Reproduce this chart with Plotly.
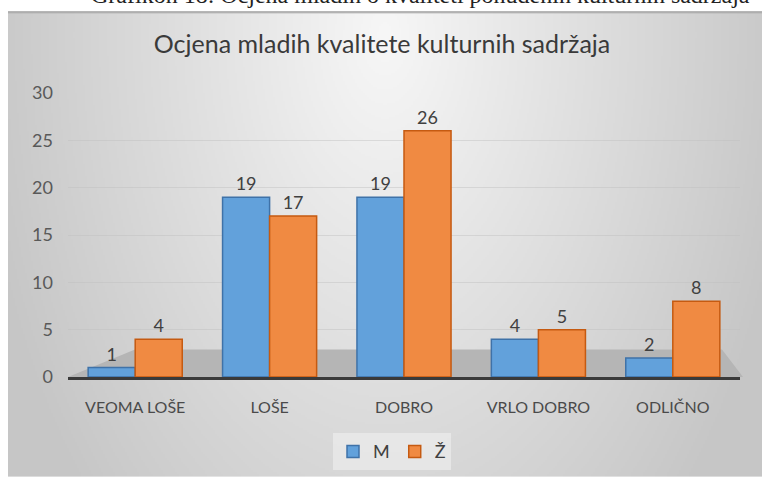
import base64, struct, zlib, math
import plotly.graph_objects as go

categories = ["VEOMA LOŠE", "LOŠE", "DOBRO", "VRLO DOBRO", "ODLIČNO"]
values_m = [1, 19, 19, 4, 2]
values_z = [4, 17, 26, 5, 8]
series_names = ["M", "Ž"]
y_ticks = [0, 5, 10, 15, 20, 25, 30]

W, H = 762, 482
L, R, T, B = 68, 22, 93, 101
PW, PH = W - L - R, H - T - B


def px_x(p):
    return (p - L) / PW


def px_y(p):
    return (H - B - p) / PH


# background gradient as a small grayscale PNG
def make_png(w, h):
    rows = b""
    for j in range(h):
        row = bytearray([0])
        fy = j / (h - 1)
        for i in range(w):
            fx = i / (w - 1)
            r = math.sqrt(((fx - 0.5) / 0.5) ** 2 * 0.9 + (fy - 0.05) ** 2 * 0.5)
            v = 247 - 47 * r
            v = max(198, min(247, v))
            if j == 0:
                v = 170
            row.append(int(v))
        rows += bytes(row)

    def chunk(t, d):
        c = struct.pack(">I", len(d)) + t + d
        return c + struct.pack(">I", zlib.crc32(t + d) & 0xffffffff)

    png = b"\x89PNG\r\n\x1a\n"
    png += chunk(b"IHDR", struct.pack(">IIBBBBB", w, h, 8, 0, 0, 0, 0))
    png += chunk(b"IDAT", zlib.compress(rows, 9))
    png += chunk(b"IEND", b"")
    return "data:image/png;base64," + base64.b64encode(png).decode()


bg = make_png(377, 236)

font = "Lato, 'Open Sans', sans-serif"

fig = go.Figure()
fig.add_trace(go.Bar(
    x=categories, y=values_m, name=series_names[0],
    marker=dict(color="#62A1DB", line=dict(color="#3F72A8", width=1.5)),
    text=values_m, textposition="outside", cliponaxis=False,
    textfont=dict(family=font, size=18, color="#404040"),
))
fig.add_trace(go.Bar(
    x=categories, y=values_z, name=series_names[1],
    marker=dict(color="#F08A42", line=dict(color="#C55A11", width=1.5)),
    text=values_z, textposition="outside", cliponaxis=False,
    textfont=dict(family=font, size=18, color="#404040"),
))

fig.update_layout(
    width=W, height=H,
    margin=dict(l=L, r=R, t=T, b=B),
    paper_bgcolor="white",
    plot_bgcolor="rgba(0,0,0,0)",
    barmode="group", bargap=0.3, bargroupgap=0,
    title=dict(text="Ocjena mladih kvalitete kulturnih sadržaja",
               x=382 / W, xanchor="center", xref="container",
               y=1 - 44 / H, yanchor="middle", yref="container",
               font=dict(family=font, size=25, color="#3a3a3a")),
    font=dict(family=font, color="#595959"),
    xaxis=dict(showline=True, linecolor="#3a3a3a", linewidth=3,
               showgrid=False, ticks="", ticklabelstandoff=14,
               tickfont=dict(family=font, size=16, color="#4a4a4a")),
    yaxis=dict(range=[0, 30], tickvals=y_ticks, showgrid=True,
               gridcolor="rgba(190,190,190,0.45)", gridwidth=1,
               zeroline=False, showline=False, ticks="",
               ticklabelstandoff=14,
               tickfont=dict(family=font, size=18, color="#595959")),
    legend=dict(orientation="h", x=px_x(392), xanchor="center",
                y=px_y(438), yanchor="top",
                bgcolor="rgba(240,240,240,0.6)",
                font=dict(family=font, size=18, color="#404040"),
                itemwidth=30, tracegroupgap=0),
    images=[dict(source=bg, xref="paper", yref="paper",
                 x=px_x(8), y=px_y(10), sizex=(W - 8) / PW, sizey=(H - 10) / PH,
                 xanchor="left", yanchor="top", sizing="stretch", layer="below")],
    shapes=[dict(type="path", xref="paper", yref="paper",
                 path=f"M 0 0 L {px_x(743):.4f} 0 L {px_x(722):.4f} {px_y(353):.4f} L {px_x(135):.4f} {px_y(353):.4f} Z",
                 fillcolor="#b5b5b5", line=dict(width=0), layer="between")],
    annotations=[dict(text="Grafikon 18: Ocjena mladih o kvaliteti ponuđenih kulturnih sadržaja",
                      xref="paper", yref="paper", x=px_x(420), y=px_y(9),
                      xanchor="center", yanchor="bottom", showarrow=False,
                      font=dict(family="'Liberation Serif', serif", size=24, color="#222222"))],
)

fig.write_html("out.html", config={"displayModeBar": False},
               post_script="document.body.style.margin='0';document.body.style.overflow='hidden';")
